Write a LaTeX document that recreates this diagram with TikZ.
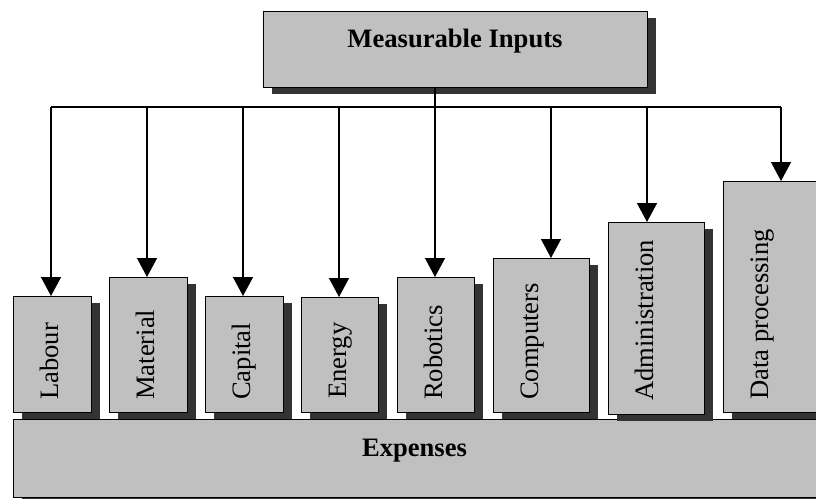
\documentclass[tikz,border=0pt]{standalone}
\usepackage{fontspec}
\setmainfont{Liberation Serif}
\usetikzlibrary{arrows.meta,shadows}
\definecolor{boxgray}{HTML}{C0C0C0}
\definecolor{shadowgray}{HTML}{333333}
\tikzset{
  box/.style={draw=black, line width=1.4pt, fill=boxgray, rectangle, inner sep=0pt, anchor=north west,
    drop shadow={shadow xshift=8pt, shadow yshift=-6pt, fill=shadowgray, opacity=1}},
  lbl/.style={rotate=90, anchor=base west, inner sep=0pt, font=\fontsize{26.6}{30}\selectfont},
  conn/.style={line width=1.4pt, draw=black},
  arr/.style={conn, -{Triangle[width=20pt,length=19pt]}},
  ttl/.style={anchor=base, inner sep=0pt, font=\fontsize{26.6}{30}\selectfont\bfseries}
}
\begin{document}
\begin{tikzpicture}[x=1pt,y=-1pt]
\useasboundingbox (0,0) rectangle (816,498);
\clip (0,0) rectangle (816,498);
% top box
\node[box, minimum width=384pt, minimum height=76pt] (top) at (263,11) {};
\node[ttl] (toptxt) at (455,47) {Measurable Inputs};
% expenses
\node[box, minimum width=806pt, minimum height=78pt] (exp) at (13,419) {};
\node[ttl] (exptxt) at (414.5,456) {Expenses};
% input boxes
\node[box, minimum width=78pt, minimum height=116pt] (labour) at (13,296) {};
\node[box, minimum width=78pt, minimum height=135pt] (material) at (109,277) {};
\node[box, minimum width=78pt, minimum height=116pt] (capital) at (205,296) {};
\node[box, minimum width=77pt, minimum height=115pt] (energy) at (301,297) {};
\node[box, minimum width=77pt, minimum height=135pt] (robotics) at (397,277) {};
\node[box, minimum width=96pt, minimum height=154pt] (computers) at (493,258) {};
\node[box, minimum width=96pt, minimum height=192pt] (admin) at (608,222) {};
\node[box, minimum width=100pt, minimum height=231pt] (data) at (723,181) {};
% labels
\node[lbl] (l1) at (58,400) {Labour};
\node[lbl] (l2) at (154,400) {Material};
\node[lbl] (l3) at (250,400) {Capital};
\node[lbl] (l4) at (346,399) {Energy};
\node[lbl] (l5) at (442,400) {Robotics};
\node[lbl] (l6) at (538,400) {Computers};
\node[lbl] (l7) at (653,401) {Administration};
\node[lbl] (l8) at (768,400) {Data processing};
% connector coordinates
\coordinate (h1) at (51,107);
\coordinate (h2) at (147,107);
\coordinate (h3) at (243,107);
\coordinate (h4) at (339,107);
\coordinate (h5) at (435,107);
\coordinate (h6) at (551,107);
\coordinate (h7) at (647,107);
\coordinate (h8) at (781,107);
\draw[conn] (h1) -- (h8);
\draw[arr] (top.south -| h5) -- (h5 |- robotics.north);
\draw[arr] (h1) -- (h1 |- labour.north);
\draw[arr] (h2) -- (h2 |- material.north);
\draw[arr] (h3) -- (h3 |- capital.north);
\draw[arr] (h4) -- (h4 |- energy.north);
\draw[arr] (h6) -- (h6 |- computers.north);
\draw[arr] (h7) -- (h7 |- admin.north);
\draw[arr] (h8) -- (h8 |- data.north);
\end{tikzpicture}
\end{document}
